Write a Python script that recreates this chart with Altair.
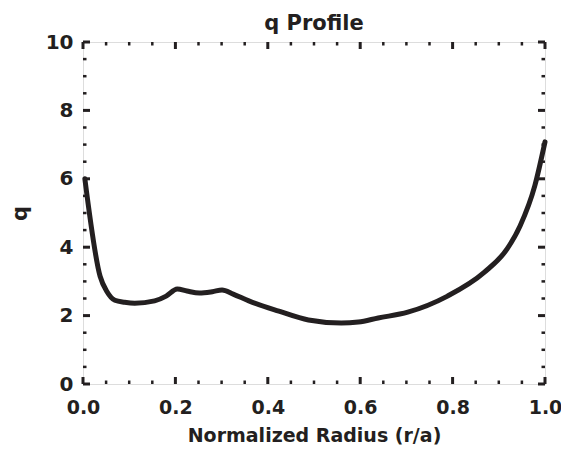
import altair as alt
import pandas as pd

# q profile
radius = [0.004, 0.037, 0.052, 0.069, 0.09, 0.112, 0.155, 0.18, 0.204, 0.225,
          0.252, 0.28, 0.301, 0.325, 0.359, 0.424, 0.488, 0.559, 0.596, 0.639,
          0.703, 0.789, 0.869, 0.918, 0.946, 0.978, 1.0]
q_values = [6.0, 3.15, 2.7, 2.45, 2.39, 2.36, 2.43, 2.57, 2.78, 2.72,
            2.66, 2.70, 2.75, 2.63, 2.43, 2.13, 1.87, 1.78, 1.81, 1.93,
            2.1, 2.57, 3.27, 3.95, 4.62, 5.8, 7.08]

x_major = [0.0, 0.2, 0.4, 0.6, 0.8, 1.0]
x_minor = [0.05, 0.1, 0.15, 0.25, 0.3, 0.35, 0.45, 0.5, 0.55,
           0.65, 0.7, 0.75, 0.85, 0.9, 0.95]
y_major = [0, 2, 4, 6, 8, 10]
y_minor = [0.5, 1, 1.5, 2.5, 3, 3.5, 4.5, 5, 5.5, 6.5, 7, 7.5, 8.5, 9, 9.5]

W, H = 462, 342
INK = "#231f20"
FONT = "DejaVu Sans"
MAJ, MIN = 7, 3.5

df = pd.DataFrame({"r": radius, "q": q_values})
xs = alt.Scale(domain=[0, 1], nice=False)
ys = alt.Scale(domain=[0, 10], nice=False)

xaxis = alt.Axis(values=x_major, format=".1f", ticks=False, tickSize=0, domain=False,
                 grid=False, labelFont=FONT, labelFontSize=19, labelFontWeight="bold",
                 labelColor=INK, labelPadding=14, labelFlush=False,
                 title="Normalized Radius (r/a)", titleFont=FONT, titleFontSize=19,
                 titleFontWeight="bold", titleColor=INK, titleX=W / 2, titleY=51,
                 titleBaseline="middle", titleAlign="center")
yaxis = alt.Axis(values=y_major, format="d", ticks=False, tickSize=0, domain=False,
                 grid=False, labelFont=FONT, labelFontSize=20, labelFontWeight="bold",
                 labelColor=INK, labelPadding=10, labelFlush=False,
                 title="q", titleFont=FONT, titleFontSize=21, titleFontWeight="bold",
                 titleColor=INK, titleX=-63, titleY=H / 2, titleAngle=-90,
                 titleBaseline="middle", titleAlign="center")

line = alt.Chart(df).mark_line(color=INK, strokeWidth=5, interpolate="monotone",
                               strokeCap="round", strokeJoin="round").encode(
    x=alt.X("r:Q", scale=xs, axis=xaxis),
    y=alt.Y("q:Q", scale=ys, axis=yaxis),
)

def xticks(vals, length, sw):
    d = pd.DataFrame({"v": vals})
    bot = alt.Chart(d).mark_rule(color=INK, strokeWidth=sw).encode(
        x=alt.X("v:Q", scale=xs), y=alt.value(H), y2=alt.value(H - length))
    top = alt.Chart(d).mark_rule(color=INK, strokeWidth=sw).encode(
        x=alt.X("v:Q", scale=xs), y=alt.value(0), y2=alt.value(length))
    return [bot, top]

def yticks(vals, length, sw):
    d = pd.DataFrame({"v": vals})
    left = alt.Chart(d).mark_rule(color=INK, strokeWidth=sw).encode(
        y=alt.Y("v:Q", scale=ys), x=alt.value(0), x2=alt.value(length))
    right = alt.Chart(d).mark_rule(color=INK, strokeWidth=sw).encode(
        y=alt.Y("v:Q", scale=ys), x=alt.value(W), x2=alt.value(W - length))
    return [left, right]

layers = ([line] + xticks(x_major, MAJ, 3) + xticks(x_minor, MIN, 2.5)
          + yticks(y_major, MAJ, 3) + yticks(y_minor, MIN, 2.5))

chart = alt.layer(*layers).properties(
    width=W, height=H,
    title=alt.TitleParams("q Profile", font=FONT, fontSize=21, fontWeight="bold",
                          color=INK, anchor="middle", offset=-2),
    autosize=alt.AutoSizeParams(type="none"),
    padding={"left": 75, "top": 34, "right": 16, "bottom": 61},
).configure_view(stroke=INK, strokeWidth=3.5).configure(background="white")

chart.save("out.html", embed_options={"renderer": "svg", "actions": False})
